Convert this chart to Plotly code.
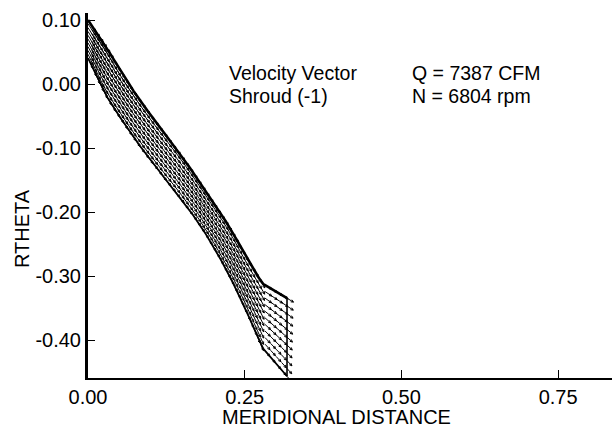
import numpy as np
import plotly.graph_objects as go

# Blade surfaces in the blade-to-blade plane (meridional distance, r*theta).
# The last two points of each surface are the straight wake segment.
UPPER_M = [0.0, 0.0271, 0.0511, 0.0750, 0.0989, 0.1228, 0.1516, 0.1899, 0.2265, 0.2537, 0.2776, 0.3175]
UPPER_RT = [0.100, 0.0609, 0.0219, -0.0141, -0.0469, -0.0781, -0.1156, -0.1703, -0.2250, -0.2719, -0.3109, -0.3344]
LOWER_M = [0.0, 0.0271, 0.0542, 0.0830, 0.1149, 0.1500, 0.1787, 0.2106, 0.2425, 0.2776, 0.3175]
LOWER_RT = [0.0406, -0.0141, -0.0563, -0.0969, -0.1375, -0.1813, -0.2203, -0.2719, -0.3328, -0.4109, -0.4563]

# Vector length (plot units) along each surface
SPEED_M = [0.0, 0.08, 0.16, 0.24, 0.3175]
SPEED_UPPER = [0.022, 0.020, 0.017, 0.014, 0.012]
SPEED_LOWER = [0.018, 0.017, 0.015, 0.012, 0.011]

# Pitchwise fractions of the passage (0 = lower surface, 1 = upper surface)
PITCH_FRACTIONS = [0.0, 0.1, 0.2, 0.3, 0.4, 0.5, 0.6, 0.7, 0.8, 0.9, 1.0]
N_STATIONS = 50

X_TICKS = [0.0, 0.25, 0.50, 0.75]
X_LABELS = ["0.00", "0.25", "0.50", "0.75"]
Y_TICKS = [0.10, 0.0, -0.10, -0.20, -0.30, -0.40]
Y_LABELS = ["0.10", "0.00", "-0.10", "-0.20", "-0.30", "-0.40"]

FONT = "Liberation Sans, Arial, Helvetica, sans-serif"
W, H = 613, 431
PLOT_L, PLOT_R, PLOT_T, PLOT_B = 88, 612, 13, 378


def hermite(xs, ys, xq):
    """Smooth cubic Hermite curve through (xs, ys), evaluated at xq."""
    xs = np.asarray(xs, float)
    ys = np.asarray(ys, float)
    d = np.gradient(ys, xs)
    xq = np.asarray(xq, float)
    i = np.clip(np.searchsorted(xs, xq) - 1, 0, len(xs) - 2)
    h = xs[i + 1] - xs[i]
    t = (xq - xs[i]) / h
    h00 = 2 * t**3 - 3 * t**2 + 1
    h10 = t**3 - 2 * t**2 + t
    h01 = -2 * t**3 + 3 * t**2
    h11 = t**3 - t**2
    return h00 * ys[i] + h10 * h * d[i] + h01 * ys[i + 1] + h11 * h * d[i + 1]


def surface(ms, rts, xq):
    """Blade part is smooth, wake part (last segment) is straight."""
    ms = np.asarray(ms)
    rts = np.asarray(rts)
    xq = np.asarray(xq, float)
    k = ms[-2]
    return np.where(xq <= k, hermite(ms[:-1], rts[:-1], np.minimum(xq, k)),
                    np.interp(xq, ms, rts))


def surface_slope(ms, rts, xq, eps=1e-4):
    lo_x = np.clip(xq - eps, 0, ms[-1])
    hi_x = np.clip(xq + eps, 0, ms[-1])
    return (surface(ms, rts, hi_x) - surface(ms, rts, lo_x)) / (hi_x - lo_x)


m_end = UPPER_M[-1]
fine = np.linspace(0.0, m_end, 600)
up_f = surface(UPPER_M, UPPER_RT, fine)
lo_f = surface(LOWER_M, LOWER_RT, fine)

# stations evenly spaced in arc length along the passage mean line
mid = 0.5 * (up_f + lo_f)
arc = np.concatenate([[0], np.cumsum(np.hypot(np.diff(fine), np.diff(mid)))])
stations = np.interp(np.linspace(0, arc[-1], N_STATIONS), arc, fine)

up = surface(UPPER_M, UPPER_RT, stations)
lo = surface(LOWER_M, LOWER_RT, stations)
up_s = surface_slope(UPPER_M, UPPER_RT, stations)
lo_s = surface_slope(LOWER_M, LOWER_RT, stations)
sp_u = np.interp(stations, SPEED_M, SPEED_UPPER)
sp_l = np.interp(stations, SPEED_M, SPEED_LOWER)

# velocity vectors along each quasi-streamline of the mesh
vx, vy = [], []
for f in PITCH_FRACTIONS:
    rt = lo + f * (up - lo)
    slope = lo_s + f * (up_s - lo_s)
    spd = sp_l + f * (sp_u - sp_l)
    for m0, r0, s, L in zip(stations, rt, slope, spd):
        d = np.array([1.0, s]) / np.hypot(1.0, s)
        tip = np.array([m0, r0]) + L * d
        vx += [m0, tip[0], None]
        vy += [r0, tip[1], None]
        hl = 0.0045
        for ang in (np.radians(25), -np.radians(25)):
            c, sn = np.cos(ang), np.sin(ang)
            bd = np.array([-(d[0] * c - d[1] * sn), -(d[0] * sn + d[1] * c)])
            b = tip + hl * bd
            vx += [tip[0], b[0], None]
            vy += [tip[1], b[1], None]

fig = go.Figure()
fig.add_trace(go.Scatter(x=vx, y=vy, mode="lines",
                         line=dict(color="black", width=1.0),
                         hoverinfo="skip", showlegend=False))
# blade surfaces
fig.add_trace(go.Scatter(x=fine, y=up_f, mode="lines",
                         line=dict(color="black", width=2.6),
                         hoverinfo="skip", showlegend=False))
fig.add_trace(go.Scatter(x=fine, y=lo_f, mode="lines",
                         line=dict(color="black", width=1.8),
                         hoverinfo="skip", showlegend=False))
# trailing edge
fig.add_trace(go.Scatter(x=[LOWER_M[-1], UPPER_M[-1]], y=[LOWER_RT[-1], UPPER_RT[-1]],
                         mode="lines", line=dict(color="black", width=1.6),
                         hoverinfo="skip", showlegend=False))


def px_to_paper(px, py):
    return (px - PLOT_L) / (PLOT_R - PLOT_L), (PLOT_B - py) / (PLOT_B - PLOT_T)


ann_font = dict(family=FONT, size=19.5, color="black")
notes = [
    ("Velocity Vector", 227, 73),
    ("Shroud (-1)", 227, 96),
    ("Q = 7387 CFM", 410, 73),
    ("N = 6804 rpm", 410, 96),
]
anns = []
for text, px, py in notes:
    x, y = px_to_paper(px, py)
    anns.append(dict(text=text, x=x, y=y, xref="paper", yref="paper",
                     xanchor="left", yanchor="middle", showarrow=False, font=ann_font))

tx, ty = px_to_paper(336, 417)
anns.append(dict(text="MERIDIONAL DISTANCE", x=tx, y=ty, xref="paper", yref="paper",
                 xanchor="center", yanchor="middle", showarrow=False,
                 font=dict(family=FONT, size=20, color="black")))
tx, ty = px_to_paper(22, 229)
anns.append(dict(text="RTHETA", x=tx, y=ty, xref="paper", yref="paper", textangle=-90,
                 xanchor="center", yanchor="middle", showarrow=False,
                 font=dict(family=FONT, size=20, color="black")))

fig.update_layout(
    width=W, height=H,
    margin=dict(l=PLOT_L, r=W - PLOT_R, t=PLOT_T, b=H - PLOT_B),
    plot_bgcolor="white", paper_bgcolor="white",
    font=dict(family=FONT, size=20, color="black"),
    xaxis=dict(range=[0, 0.836], showline=True, linecolor="black", linewidth=2,
               ticks="inside", ticklen=8, tickwidth=1, tickcolor="black",
               tickvals=X_TICKS, ticktext=X_LABELS, showgrid=False, zeroline=False),
    yaxis=dict(range=[-0.459, 0.111], showline=True, linecolor="black", linewidth=3,
               ticks="inside", ticklen=7, tickwidth=1, tickcolor="black",
               tickvals=Y_TICKS, ticktext=Y_LABELS, showgrid=False, zeroline=False),
    annotations=anns,
)

fig.write_html("out.html")
